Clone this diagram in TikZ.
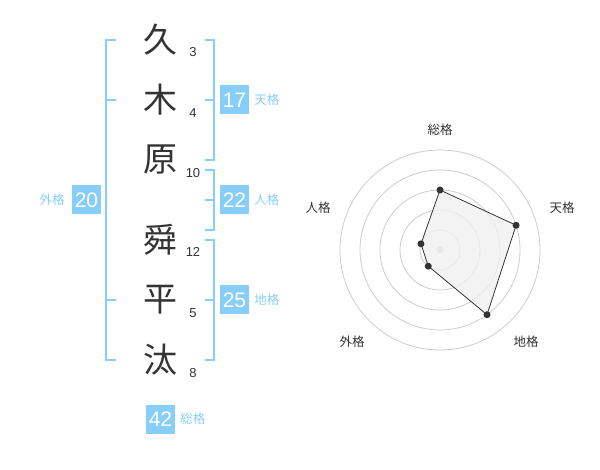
\documentclass[tikz,border=0pt]{standalone}
\usepackage{fontspec}
\setmainfont{Liberation Sans}
\newfontfamily\jp{Noto Sans CJK JP}
\usepackage{tikz}
\usetikzlibrary{positioning}
\definecolor{skyb}{RGB}{135,206,250}
\definecolor{ink}{RGB}{51,51,51}

\begin{document}
\begin{tikzpicture}[x=1pt,y=-1pt,
    kanji/.style={font=\jp\fontsize{34}{34}\selectfont, text=ink, inner sep=0pt},
    strokes/.style={font=\fontsize{13}{13}\selectfont, text=ink, inner sep=0pt},
    numbox/.style={fill=skyb, text=white, minimum size=29pt, inner sep=0pt, font=\fontsize{21}{21}\selectfont},
    kaku/.style={text=skyb, font=\jp\fontsize{12.5}{12.5}\selectfont, inner sep=0pt},
    axis/.style={text=ink, font=\jp\fontsize{12.5}{12.5}\selectfont, inner sep=0pt},
    bracket/.style={draw=skyb, line width=2pt},
    ring/.style={draw=black!20, line width=0.8pt},
    dot/.style={shape=circle, fill=ink, inner sep=0pt, minimum size=7pt}]
        \useasboundingbox (0,0) rectangle (600,470);

        % name
        \node[kanji] (K1) at (160, 40) {久};
        \node[kanji] (K2) at (160, 100) {木};
        \node[kanji] (K3) at (160, 160) {原};
        \node[kanji] (K4) at (160, 240) {舜};
        \node[kanji] (K5) at (160, 300) {平};
        \node[kanji] (K6) at (160, 360) {汰};

        \node[strokes] (S1) at (193, 52) {3};
        \node[strokes] (S2) at (193, 113) {4};
        \node[strokes] (S3) at (193, 173) {10};
        \node[strokes] (S4) at (193, 252) {12};
        \node[strokes] (S5) at (193, 313) {5};
        \node[strokes] (S6) at (193, 373) {8};

        % brackets
        \draw[bracket] (116, 40) -- (106, 40) -- (106, 360) -- (116, 360);
        \draw[bracket] (106, 100) -- (116, 100);
        \draw[bracket] (106, 300) -- (116, 300);
        \draw[bracket] (205, 40) -- (214, 40) -- (214, 160) -- (205, 160);
        \draw[bracket] (214, 100) -- (205, 100);
        \draw[bracket] (205, 170) -- (214, 170) -- (214, 230) -- (205, 230);
        \draw[bracket] (214, 200) -- (205, 200);
        \draw[bracket] (205, 240) -- (214, 240) -- (214, 360) -- (205, 360);
        \draw[bracket] (214, 300) -- (205, 300);

        % scores
        \node[numbox] (Ten) at (234.5, 100) {17};
        \node[kaku, right=5pt of Ten] (TenL) {天格};
        \node[numbox] (Jin) at (234.5, 200) {22};
        \node[kaku, right=5pt of Jin] (JinL) {人格};
        \node[numbox] (Chi) at (234.5, 300) {25};
        \node[kaku, right=5pt of Chi] (ChiL) {地格};
        \node[numbox] (Gai) at (86.5, 200) {20};
        \node[kaku, left=7pt of Gai] (GaiL) {外格};
        \node[numbox] (Sou) at (160.5, 419) {42};
        \node[kaku, right=5pt of Sou] (SouL) {総格};

        % radar
        \begin{scope}[shift={(440, 250)}, y=1pt]
            \foreach \r in {20, 40, 60, 80, 100}
                \draw[ring] (0, 0) circle (\r);
            \fill[black!22] (0, 0) circle (3.5);
            \coordinate (PSou) at (90:60);
            \coordinate (PTen) at (18:80);
            \coordinate (PChi) at (-54:80);
            \coordinate (PGai) at (-126:20);
            \coordinate (PJin) at (162:20);
            \draw[fill=black!6, fill opacity=0.8, draw=ink, line width=0.8pt]
                (PSou) -- (PTen) -- (PChi) -- (PGai) -- (PJin) -- cycle;
            \foreach \p in {PSou, PTen, PChi, PGai, PJin}
                \node[dot] at (\p) {};
            \node[axis] (ASou) at (0, 120) {総格};
            \node[axis] (ATen) at (122, 42) {天格};
            \node[axis] (AChi) at (86, -92) {地格};
            \node[axis] (AGai) at (-88, -92) {外格};
            \node[axis] (AJin) at (-122, 42) {人格};
        \end{scope}
    \end{tikzpicture}
\end{document}
